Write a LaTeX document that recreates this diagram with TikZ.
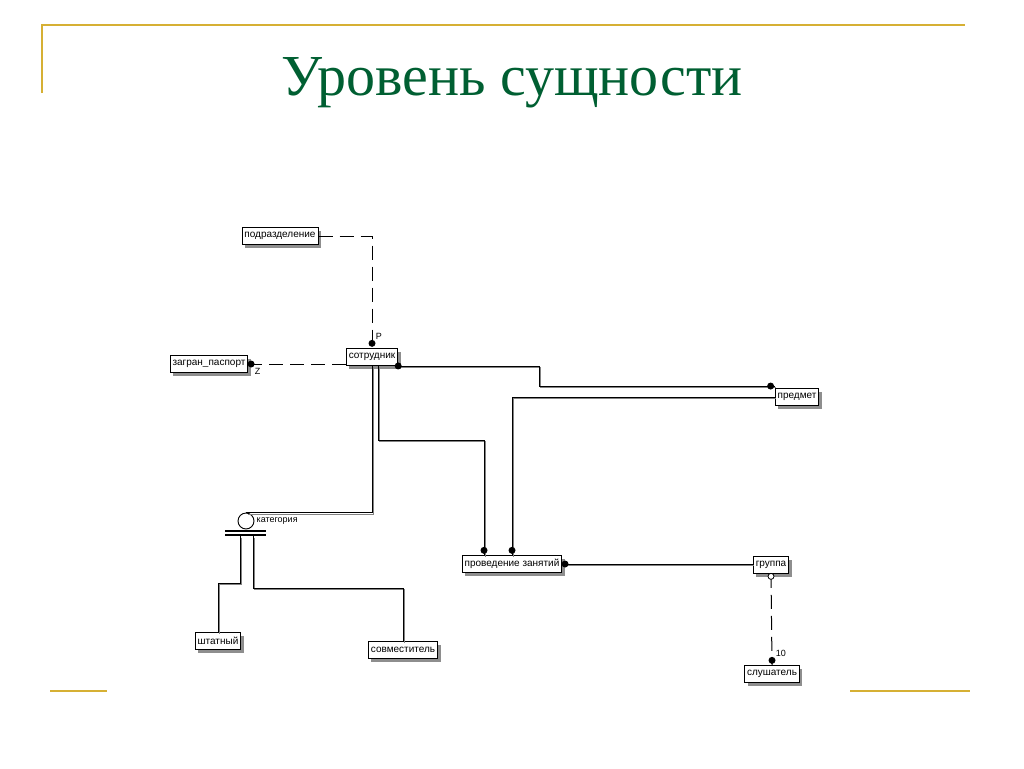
\documentclass[tikz,border=0pt]{standalone}
\usepackage{fontspec}
\setmainfont{Liberation Serif}
\setsansfont{Liberation Sans}
\usepackage{xcolor}
\usetikzlibrary{shadows, positioning}
\definecolor{gold}{RGB}{214,176,52}
\definecolor{titlegreen}{RGB}{0,95,50}
\definecolor{shade}{RGB}{130,130,130}

\tikzset{
  ent/.style={rectangle, draw=black, line width=0.9pt, fill=white,
    font=\sffamily\fontsize{10}{11}\selectfont, inner xsep=2.5pt,
    minimum height=17pt,
    drop shadow={shadow xshift=3pt, shadow yshift=-3pt, fill=shade,
      opacity=0.9}},
  rel/.style={line width=0.9pt, draw=black,
    preaction={draw=shade, line width=0.9pt,
      transform canvas={shift={(1.5pt,-1.5pt)}}}},
  dashrel/.style={line width=1pt, draw=black, dash pattern=on 14pt off 7pt},
  dot/.style={circle, fill=black, inner sep=0pt, minimum size=7pt},
  odot/.style={circle, draw=black, fill=white, line width=0.8pt,
    inner sep=0pt, minimum size=6pt},
  card/.style={font=\sffamily\fontsize{9}{10}\selectfont, inner sep=1pt}
}

\begin{document}
\begin{tikzpicture}[x=1pt, y=-1pt]
  \useasboundingbox (0,0) rectangle (1024,768);

  % slide frame
  \draw[gold, line width=2pt] (42,93) -- (42,25) -- (965,25);
  \draw[gold, line width=2pt] (50,691) -- (107,691);
  \draw[gold, line width=2pt] (850,691) -- (970,691);
  \node[text=titlegreen, font=\fontsize{58}{62}\selectfont, anchor=base]
    (title) at (512,95) {Уровень сущности};

  % entities
  \node[ent] (podr)  at (280,236) {подразделение};
  \node[ent] (zagr)  at (209,364) {загран\_паспорт};
  \node[ent] (sotr)  at (372,357) {сотрудник};
  \node[ent] (pred)  at (797,397) {предмет};
  \node[ent] (prov)  at (512,564) {проведение занятий};
  \node[ent] (grup)  at (771,565) {группа};
  \node[ent] (shtat) at (218,641) {штатный};
  \node[ent] (sovm)  at (403,650) {совместитель};
  \node[ent] (slush) at (772,674) {слушатель};

  % category
  \node[circle, draw=black, line width=0.9pt, fill=white, inner sep=0pt,
        minimum size=16pt] (kat) at (246,521) {};
  \node[card, anchor=west] (katlbl) at ([xshift=1pt]kat.east) {категория};
  \draw[line width=1.1pt] (225,531) coordinate (barA) -- (266,531);
  \draw[line width=1.1pt] (225,535) coordinate (barB) -- (266,535);
  \coordinate (katL) at (240,536);
  \coordinate (katR) at (253,536);

  % relationships
  \draw[dashrel] (podr.east) -| (sotr.north);
  \node[dot, anchor=south] (d1) at ([yshift=1pt]sotr.north) {};
  \node[card, anchor=south west] at (d1.north east) {P};

  \draw[dashrel] (zagr.east) -- (zagr.east -| sotr.west);
  \node[dot, anchor=west] (d2) at ([xshift=-1pt]zagr.east) {};
  \node[card, anchor=north west] at (d2.south east) {Z};

  \draw[rel] (sotr.south east) -- ++(141,0) |- ([yshift=2pt]pred.north west);
  \node[dot] at (sotr.south east) {};
  \node[dot] at ([xshift=-4pt,yshift=2pt]pred.north west) {};

  \draw[rel] (pred.west) -| (prov.north);
  \node[dot, anchor=south] at ([yshift=1pt]prov.north) {};

  \draw[rel] ([xshift=6pt]sotr.south) -- ++(0,74) -| ([xshift=-28pt]prov.north);
  \node[dot, anchor=south] at ([xshift=-28pt,yshift=1pt]prov.north) {};

  \draw[rel] (sotr.south) |- (kat.north);

  \draw[rel] (katL) -- ++(0,47) -| (shtat.north);
  \draw[rel] (katR) -- ++(0,52) -| (sovm.north);

  \draw[rel] (prov.east) -- (prov.east -| grup.west);
  \node[dot, anchor=west] at ([xshift=-1pt]prov.east) {};

  \draw[dashrel] (grup.south) -- (slush.north);
  \node[odot, anchor=north] at ([yshift=1pt]grup.south) {};
  \node[dot, anchor=south] (d9) at ([yshift=1pt]slush.north) {};
  \node[card, anchor=south west] at (d9.north east) {10};
\end{tikzpicture}
\end{document}
